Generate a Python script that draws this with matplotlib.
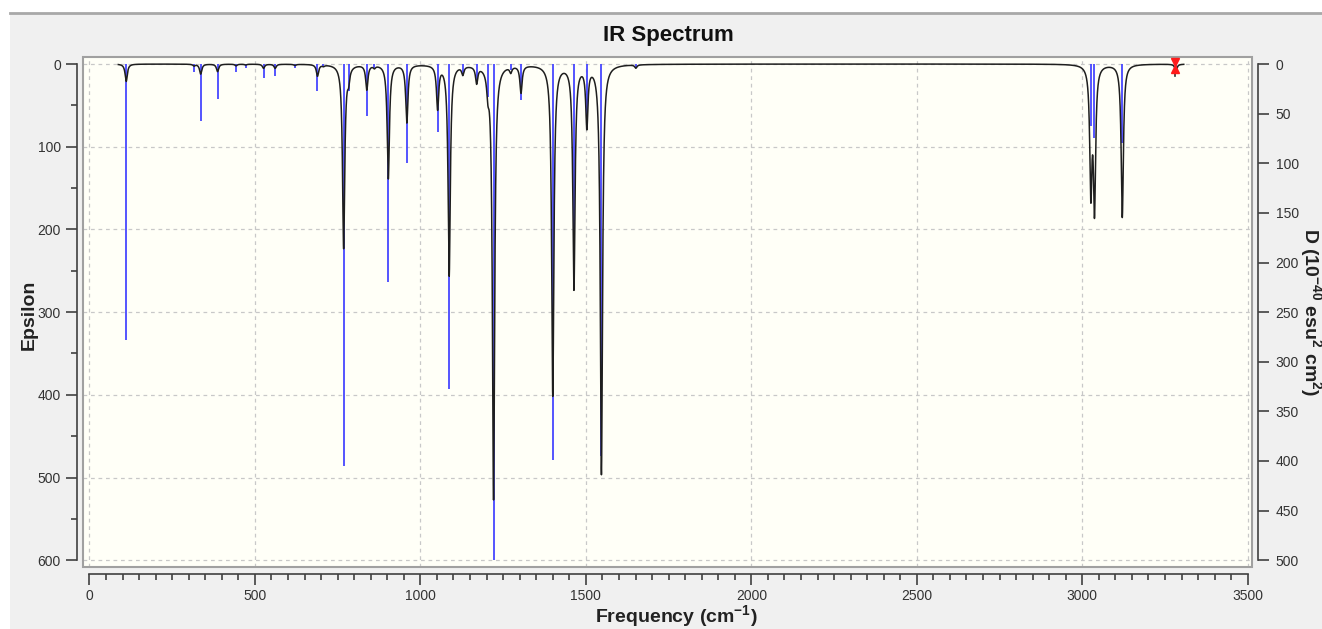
import numpy as np
import matplotlib
matplotlib.use("Agg")
import matplotlib.pyplot as plt
from matplotlib.patches import Rectangle

plt.rcParams['font.family'] = ['Liberation Sans', 'DejaVu Sans']
plt.rcParams['mathtext.fontset'] = 'custom'
plt.rcParams['mathtext.rm'] = 'Liberation Sans'
plt.rcParams['mathtext.bf'] = 'Liberation Sans:bold'

# vibrational modes: frequency (cm-1), stick dipole strength D, broadened epsilon peak
freqs = [111, 316, 336, 387, 443, 472, 526, 561, 621, 689, 707, 768, 783, 838, 861,
         903, 959, 1052, 1087, 1128, 1170, 1204, 1221, 1273, 1304, 1400, 1464, 1503,
         1547, 1651, 3026, 3037, 3121, 3283]
stick_D = [278, 8, 57, 35, 8, 4, 14, 12, 4, 27, 3, 405, 27, 52, 4,
           220, 100, 68, 327, 11, 16, 33, 500, 6, 36, 399, 215, 65,
           395, 4, 62, 75, 80, 3]
eps_peak = [21, 2, 12, 9, 2, 1, 5, 5, 1.5, 14, 1.5, 222, 14, 30, 3,
            138, 70, 52, 255, 10, 20, 22, 525, 7, 33, 400, 270, 72,
            495, 4, 148, 169, 185, 8]
hwhm = 4.0
curve_range = (87, 3307)

x_ticks = np.arange(0, 3501, 500)
eps_ticks = np.arange(0, 601, 100)
d_ticks = np.arange(0, 501, 50)

# broadened spectrum from the stick list
nu = np.arange(curve_range[0], curve_range[1], 0.25)
eps = np.zeros_like(nu)
for f, a in zip(freqs, eps_peak):
    eps += a / (1 + ((nu - f) / hwhm) ** 2)

W, H = 1322, 629
fig = plt.figure(figsize=(W / 100, H / 100), dpi=100, facecolor='white')
fig.patches.append(Rectangle((10 / W, 0), 1, 1 - 13 / H, transform=fig.transFigure,
                             facecolor='#f0f0f0', edgecolor='none', zorder=-10))
fig.lines.append(plt.Line2D([10 / W, 1], [1 - 13 / H, 1 - 13 / H], transform=fig.transFigure,
                            color='#a8a8a8', lw=2))

ax = fig.add_axes([83 / W, 1 - 567 / H, 1169 / W, 510 / H])
ax.set_facecolor('#fffff7')
ax.set_xlim(-19.6, 3513)
ax.set_ylim(608.2, -8.5)

ax2 = ax.twinx()
ax2.set_ylim(608.2 * 5 / 6, -8.5 * 5 / 6)

for a in (ax, ax2):
    for s in a.spines.values():
        s.set_visible(False)

ax.spines['left'].set_visible(True)
ax.spines['left'].set_position(('outward', 4))
ax.spines['left'].set_bounds(0, 600)
ax.spines['bottom'].set_visible(True)
ax.spines['bottom'].set_position(('outward', 5))
ax.spines['bottom'].set_bounds(0, 3500)
ax2.spines['right'].set_visible(True)
ax2.spines['right'].set_position(('outward', 4))
ax2.spines['right'].set_bounds(0, 500)
for s in (ax.spines['left'], ax.spines['bottom'], ax2.spines['right']):
    s.set_color('#404040')
    s.set_linewidth(1.2)

ax.add_patch(Rectangle((0, 0), 1, 1, transform=ax.transAxes, fill=False,
                       edgecolor='#a0a0a0', lw=1.5, clip_on=False, zorder=5))

ax.set_xticks(x_ticks)
ax.set_xticks(np.arange(0, 3501, 50), minor=True)
ax.set_yticks(eps_ticks)
ax.set_yticks(np.arange(0, 601, 50), minor=True)
ax2.set_yticks(d_ticks)
for a in (ax, ax2):
    a.tick_params(which='major', length=8, width=1.2, color='#404040',
                  labelsize=10, labelcolor='#333333')
    a.tick_params(which='minor', length=4, width=1.2, color='#404040')
ax.tick_params(axis='y', pad=4)
ax.tick_params(axis='x', pad=3)
ax2.tick_params(axis='y', pad=5)

ax.grid(True, which='major', color='#c8c8c8', lw=0.9, linestyle=(0, (3, 3)))
ax.set_axisbelow(True)

ax.vlines(freqs, 0, stick_D, transform=ax2.transData, color='#4646ff', lw=1.3, zorder=2)
ax.plot(nu, eps, color='#1e1e1e', lw=1.1, zorder=3)

# pin marker on the last mode
pin = freqs[-1] - 3
ax.plot([pin, pin], [4, 15], color='#303030', lw=1.2, zorder=6)
ax.plot([pin], [-3], marker='v', color='#ff1a1a', ms=6, zorder=7)
ax.plot([pin], [6], marker='^', color='#ff1a1a', ms=6, zorder=7)

fig.text(668 / W, 1 - 36 / H, 'IR Spectrum', ha='center', va='center',
         fontsize=16, fontweight='bold', color='#111111')
fig.text(29 / W, 1 - 315 / H, 'Epsilon', ha='center', va='center', rotation=90,
         fontsize=14, fontweight='bold', color='#222222')
fig.text(676 / W, 1 - 617 / H, r'Frequency (cm$^{\mathbf{-1}}$)', ha='center', va='center',
         fontsize=14, fontweight='bold', color='#222222')
fig.text(1310 / W, 1 - 312 / H, r'D (10$^{\mathbf{-40}}$ esu$^{\mathbf{2}}$ cm$^{\mathbf{2}}$)',
         ha='center', va='center', rotation=270,
         fontsize=14, fontweight='bold', color='#222222')

fig.savefig('out.png', dpi=100, facecolor=fig.get_facecolor())
